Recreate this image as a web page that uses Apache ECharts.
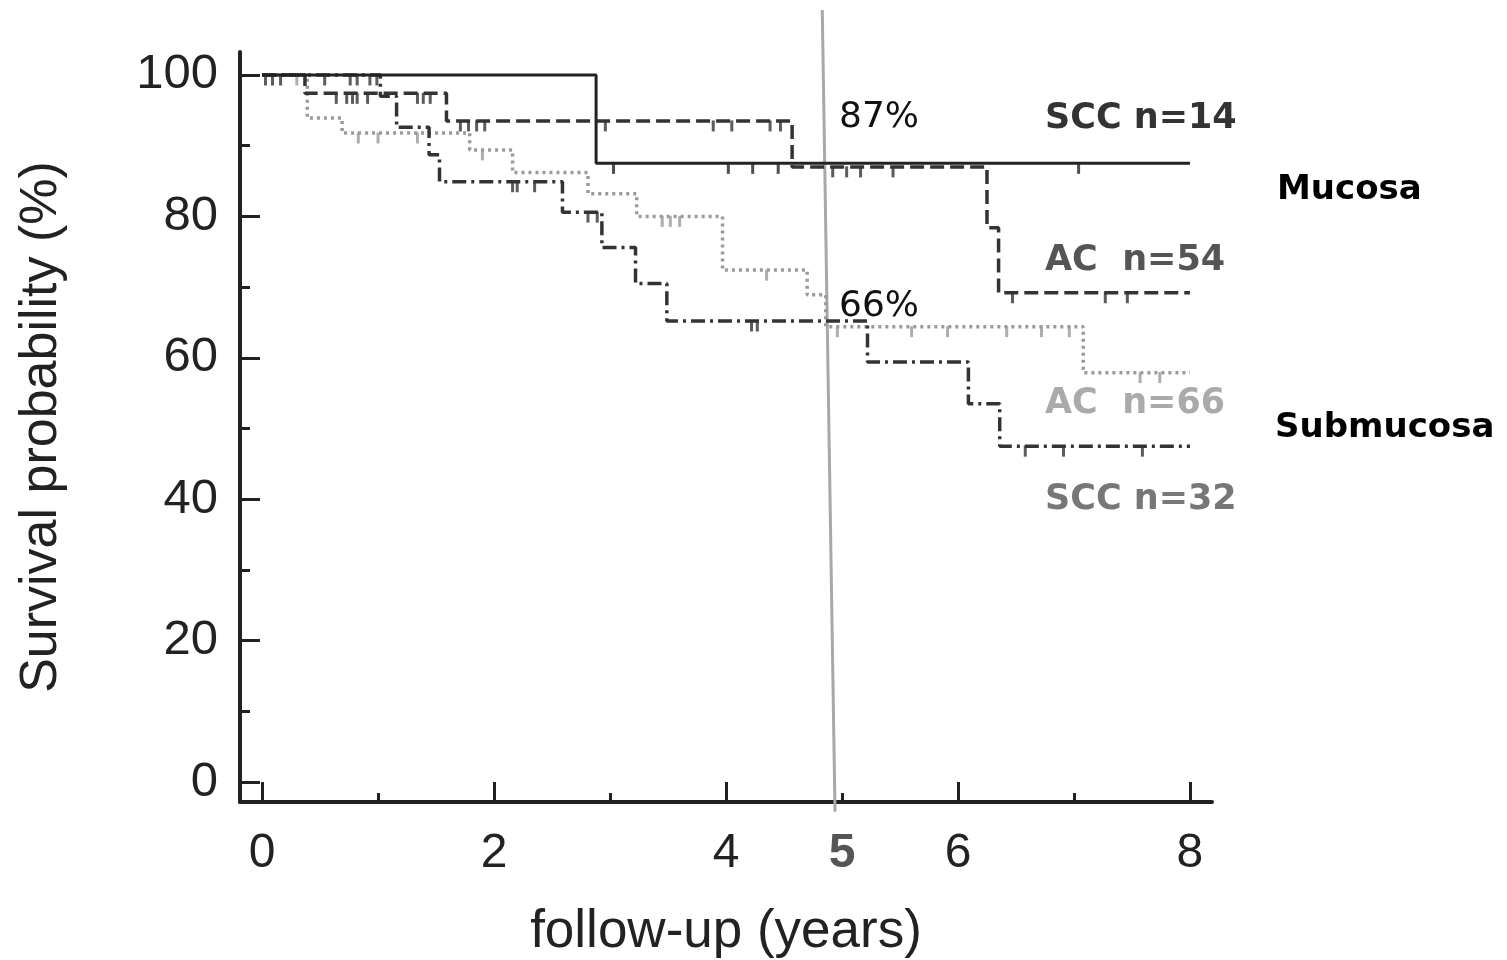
<!DOCTYPE html>
<html>
<head>
<meta charset="utf-8">
<script src="https://cdn.jsdelivr.net/npm/echarts@6/dist/echarts.min.js"></script>
<style>
  html, body { margin: 0; padding: 0; background: #fff; }
  #chart { width: 1507px; height: 960px; }
</style>
</head>
<body>
<div id="chart"></div>
<script>
// Kaplan-Meier steps: time (years) where the survival changes, survival (%) after it
const sccMucTime = [0, 2.88, 8]
const sccMucSurv = [100, 87.5, 87.5]
const sccMucCens = [3.03, 4.02, 4.23, 4.45, 7.04]

const acMucTime = [0, 0.37, 1.59, 4.57, 6.25, 6.35, 8]
const acMucSurv = [100, 97.4, 93.5, 87.0, 78.4, 69.2, 69.2]
const acMucCens = [0.03, 0.09, 0.16, 0.64, 0.73, 0.78, 0.82, 0.91, 1.34, 1.39, 1.45,
  1.71, 1.78, 1.85, 1.92, 2.96, 3.89, 4.05, 4.38, 4.47, 4.92, 5.04, 5.16, 5.44, 6.47, 7.27, 7.46]

const acSubTime = [0, 0.39, 0.69, 1.79, 2.16, 2.81, 3.23, 3.97, 4.70, 4.86, 7.08, 8]
const acSubSurv = [100, 93.9, 91.8, 89.4, 86.2, 83.2, 80.0, 72.4, 68.9, 64.4, 57.9, 57.9]
const acSubCens = [0.30, 0.83, 1.00, 1.34, 1.90, 3.45, 3.52, 3.60, 4.35,
  4.96, 5.60, 5.91, 6.42, 6.72, 6.96, 7.57, 7.74]

const sccSubTime = [0, 1.02, 1.16, 1.44, 1.53, 2.59, 2.93, 3.22, 3.49, 5.22, 6.09, 6.36, 8]
const sccSubSurv = [100, 97.0, 92.6, 88.7, 84.9, 80.6, 75.6, 70.5, 65.2, 59.4, 53.5, 47.5, 47.5]
const sccSubCens = [0.54, 0.76, 0.82, 0.93, 0.99, 2.16, 2.20, 2.35, 2.81, 2.89, 4.22, 4.27, 6.58, 6.91, 7.59]

// 5-year reference line (slightly slanted in the original)
const refLineX = [4.83, 4.94]
const refLineY = [109.2, -4.2]

const xMajorTicks = [0, 2, 4, 6, 8]
const xMinorTicks = [1, 3, 5, 7]
const xLabels = [0, 2, 4, 5, 6, 8]
const yMajorTicks = [0, 20, 40, 60, 80, 100]
const yMinorTicks = [10, 30, 50, 70, 90]

const chart = echarts.init(document.getElementById('chart'))

const stepData = (time, surv) => time.map((t, i) => [t, surv[i]])
const survAt = (time, surv, c) => {
  let v = surv[0]
  for (let i = 0; i < time.length; i++) {
    if (time[i] <= c) v = surv[i]
  }
  return v
}
const censData = (time, surv, cens) => cens.map(c => [c, survAt(time, surv, c)])

const censorSeries = (data, color) => ({
  type: 'scatter',
  data,
  symbol: 'rect',
  symbolSize: [3, 11],
  symbolOffset: [0, 5],
  itemStyle: { color },
  silent: true,
  z: 3
})

const curve = (data, color, type, width) => ({
  type: 'line',
  data,
  step: 'end',
  showSymbol: false,
  lineStyle: { color, width, type },
  silent: true,
  z: 4
})

const axisColor = '#222'

const option = {
  animation: false,
  backgroundColor: '#fff',
  grid: { left: 240, right: 295, top: 52, bottom: 158, outerBoundsMode: 'none', containLabel: false },
  xAxis: [
    {
      type: 'value',
      min: -0.19,
      max: 8.19,
      position: 'bottom',
      name: 'follow-up (years)',
      nameLocation: 'middle',
      nameGap: 104,
      nameTextStyle: { fontFamily: 'Liberation Sans', fontSize: 53, color: '#222' },
      axisLine: { onZero: false, lineStyle: { color: axisColor, width: 4 } },
      axisTick: { inside: true, length: 20, customValues: xMajorTicks, lineStyle: { color: axisColor, width: 3 } },
      axisLabel: {
        customValues: xLabels,
        margin: 28,
        fontFamily: 'Liberation Sans',
        fontSize: 48,
        color: '#222',
        formatter: v => (v === 5 ? '{b|5}' : String(v)),
        rich: {
          b: { fontFamily: 'Liberation Sans', fontSize: 48, fontWeight: 'bold', color: '#555' }
        }
      },
      splitLine: { show: false }
    },
    {
      type: 'value',
      min: -0.19,
      max: 8.19,
      position: 'bottom',
      axisLine: { show: false, onZero: false },
      axisTick: { inside: true, length: 9, customValues: xMinorTicks, lineStyle: { color: axisColor, width: 3 } },
      axisLabel: { show: false },
      splitLine: { show: false }
    }
  ],
  yAxis: [
    {
      type: 'value',
      min: -2.83,
      max: 103.25,
      position: 'left',
      name: 'Survival probability (%)',
      nameLocation: 'middle',
      nameGap: 172,
      nameRotate: 90,
      nameTextStyle: { fontFamily: 'Liberation Sans', fontSize: 52, color: '#222' },
      axisLine: { onZero: false, lineStyle: { color: axisColor, width: 4 } },
      axisTick: { inside: true, length: 20, customValues: yMajorTicks, lineStyle: { color: axisColor, width: 3 } },
      axisLabel: {
        customValues: yMajorTicks,
        margin: 22,
        fontFamily: 'Liberation Sans',
        fontSize: 49,
        color: '#222'
      },
      splitLine: { show: false }
    },
    {
      type: 'value',
      min: -2.83,
      max: 103.25,
      position: 'left',
      axisLine: { show: false, onZero: false },
      axisTick: { inside: true, length: 10, customValues: yMinorTicks, lineStyle: { color: axisColor, width: 3 } },
      axisLabel: { show: false },
      splitLine: { show: false }
    }
  ],
  series: [
    {
      type: 'line',
      data: refLineX.map((x, i) => [x, refLineY[i]]),
      showSymbol: false,
      clip: false,
      lineStyle: { color: '#a8a8a8', width: 3 },
      silent: true,
      z: 1
    },
    curve(stepData(acSubTime, acSubSurv), '#9a9a9a', [3, 4], 3.5),
    censorSeries(censData(acSubTime, acSubSurv, acSubCens), '#9a9a9a'),
    curve(stepData(sccSubTime, sccSubSurv), '#333', [14, 5, 3, 5], 3.5),
    censorSeries(censData(sccSubTime, sccSubSurv, sccSubCens), '#333'),
    curve(stepData(acMucTime, acMucSurv), '#333', [14, 6], 3.5),
    censorSeries(censData(acMucTime, acMucSurv, acMucCens), '#333'),
    curve(stepData(sccMucTime, sccMucSurv), '#222', 'solid', 3),
    censorSeries(censData(sccMucTime, sccMucSurv, sccMucCens), '#222')
  ],
  graphic: [
    { type: 'text', style: { x: 839, y: 118, text: '87%', font: '36px "DejaVu Sans"', fill: '#111', verticalAlign: 'middle' } },
    { type: 'text', style: { x: 839, y: 307, text: '66%', font: '36px "DejaVu Sans"', fill: '#111', verticalAlign: 'middle' } },
    { type: 'text', style: { x: 1045, y: 119, text: 'SCC n=14', font: 'bold 35px "DejaVu Sans"', fill: '#333', verticalAlign: 'middle' } },
    { type: 'text', style: { x: 1277, y: 190, text: 'Mucosa', font: 'bold 34px "DejaVu Sans"', fill: '#000', verticalAlign: 'middle' } },
    { type: 'text', style: { x: 1045, y: 261, text: 'AC  n=54', font: 'bold 35px "DejaVu Sans"', fill: '#555', verticalAlign: 'middle' } },
    { type: 'text', style: { x: 1045, y: 404, text: 'AC  n=66', font: 'bold 35px "DejaVu Sans"', fill: '#aaa', verticalAlign: 'middle' } },
    { type: 'text', style: { x: 1275, y: 428, text: 'Submucosa', font: 'bold 34px "DejaVu Sans"', fill: '#000', verticalAlign: 'middle' } },
    { type: 'text', style: { x: 1045, y: 500, text: 'SCC n=32', font: 'bold 35px "DejaVu Sans"', fill: '#777', verticalAlign: 'middle' } }
  ]
}

chart.setOption(option)
</script>
</body>
</html>
